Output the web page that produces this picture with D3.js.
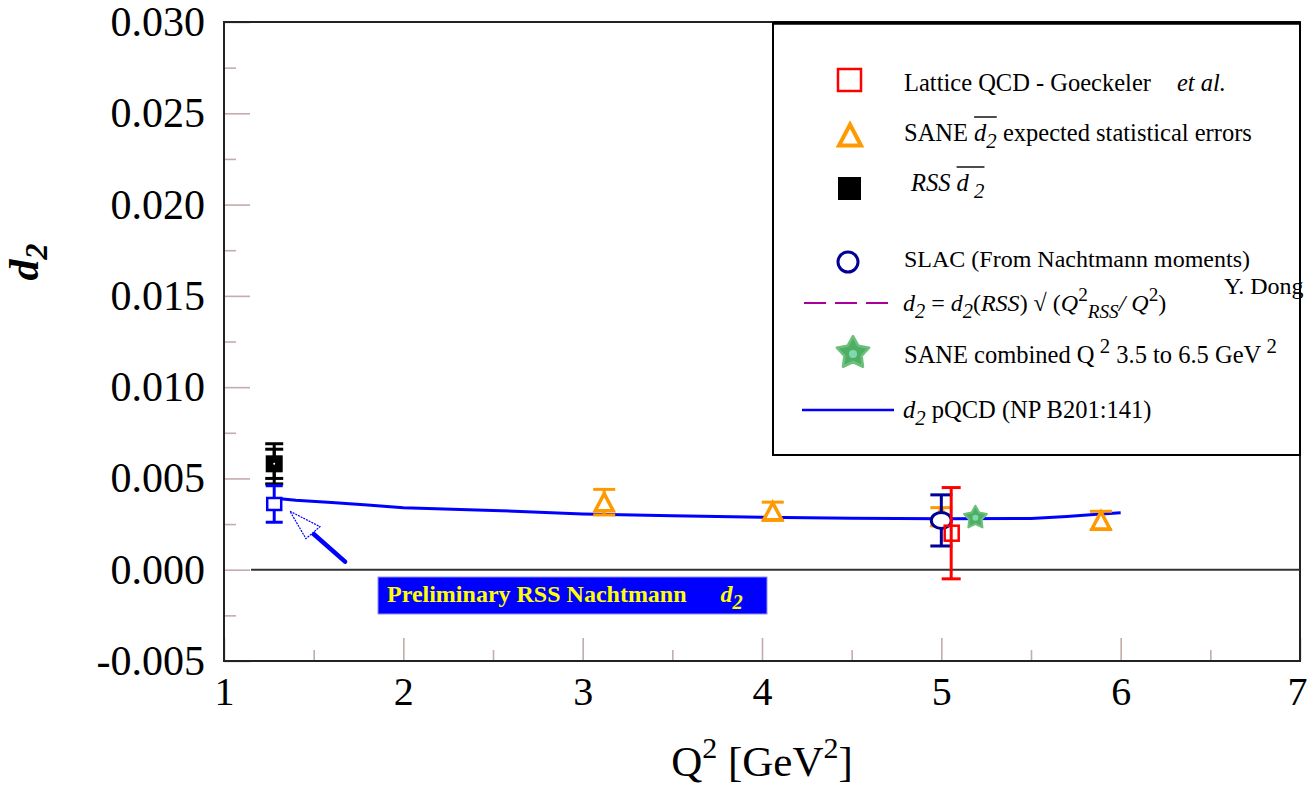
<!DOCTYPE html>
<html><head><meta charset="utf-8">
<script src="https://cdn.jsdelivr.net/npm/d3@7"></script>
<style>body{margin:0;background:#fff}svg{display:block}</style>
</head><body>
<svg id="chart" width="1308" height="789"></svg>
<script>
// ---------------- data ----------------
const xDomain = [1, 7];
const yDomain = [-0.005, 0.030];
const xTicks = [1, 2, 3, 4, 5, 6, 7];
const yTicks = [-0.005, 0.000, 0.005, 0.010, 0.015, 0.020, 0.025, 0.030];

const pqcdQ2 = [1.3, 1.4, 1.6, 1.8, 2.0, 2.5, 3.0, 3.5, 4.0, 4.5, 5.0, 5.5, 5.7, 5.85, 6.0];
const pqcdD2 = [0.0039, 0.0038, 0.00368, 0.00355, 0.0034, 0.00325, 0.00305, 0.00295, 0.00287, 0.00282, 0.00279, 0.00281, 0.00292, 0.00303, 0.00312];

const latticeQ2 = [5.055];
const latticeD2 = [0.0020];
const latticeErr = [0.0025];

const saneQ2 = [3.12, 4.06, 5.0, 5.89];
const saneD2 = [0.0037, 0.0032, 0.0029, 0.0027];
const saneErr = [0.0007, 0.0005, 0.0005, 0.0005];

const rssQ2 = [1.28];
const rssD2 = [0.0058];
const rssErrStat = [0.0008];
const rssErrTot = [0.0011];

const nachQ2 = [1.28];
const nachD2 = [0.0036];
const nachErr = [0.0010];

const slacQ2 = [5.0];
const slacD2 = [0.0027];
const slacErr = [0.0014];

const saneCombQ2 = [5.19];
const saneCombD2 = [0.00285];

// annotation arrow (data units)
const arrowTail = [1.675, 0.00044];
const arrowBase = [1.495, 0.00200];
const arrowTip = [1.368, 0.0032];
const arrowWingA = [1.535, 0.00236];
const arrowWingB = [1.457, 0.00170];

// ---------------- setup ----------------
const SERIF = '"Liberation Serif","Times New Roman",serif';
const svg = d3.select('#chart');
const L = 224, R = 1300, T = 22, B = 661;
const x = d3.scaleLinear().domain(xDomain).range([L, R]);
const y = d3.scaleLinear().domain(yDomain).range([B, T]);
const tickCol = '#c4acac';

// ---------------- axes ----------------
const yMinor = d3.pairs(yTicks).map(([a, b]) => (a + b) / 2);
const xMinor = d3.pairs(xTicks).map(([a, b]) => (a + b) / 2);

const gyMinor = svg.append('g').attr('transform', `translate(${L},0)`)
  .call(d3.axisLeft(y).tickValues(yMinor).tickSize(-12).tickFormat(''));
const gy = svg.append('g').attr('transform', `translate(${L},0)`)
  .call(d3.axisLeft(y).tickValues(yTicks).tickSize(-26).tickPadding(19).tickFormat(d => d.toFixed(3)));
const gxMinor = svg.append('g').attr('transform', `translate(0,${B})`)
  .call(d3.axisBottom(x).tickValues(xMinor).tickSize(-11).tickFormat(''));
const gx = svg.append('g').attr('transform', `translate(0,${B})`)
  .call(d3.axisBottom(x).tickValues(xTicks).tickSize(-23).tickPadding(16).tickFormat(d3.format('d')));

[gy, gyMinor, gx, gxMinor].forEach(g => {
  g.select('.domain').remove();
  g.selectAll('.tick line').attr('stroke', tickCol).attr('stroke-width', 1.6);
  g.selectAll('text').attr('fill', '#000').style('font-family', SERIF);
});
gy.selectAll('text').style('font-size', '42px');
gx.selectAll('text').style('font-size', '40px');
gx.selectAll('.tick text').filter(d => d === xDomain[1]).attr('dx', -3);

// frame
svg.append('rect').attr('x', L).attr('y', T).attr('width', R - L).attr('height', B - T)
  .attr('fill', 'none').attr('stroke', '#222').attr('stroke-width', 2);

// zero line
svg.append('line').attr('x1', L + 27).attr('x2', R).attr('y1', y(0)).attr('y2', y(0))
  .attr('stroke', '#333').attr('stroke-width', 2);

// ---------------- rich text helper ----------------
function rich(parent, px, py, segs, size, fill) {
  const t = parent.append('text').attr('x', px).attr('y', py)
    .style('font-family', SERIF).style('font-size', size + 'px').attr('fill', fill || '#000');
  let off = 0;
  const spans = [];
  segs.forEach(s => {
    const target = s.s === 'sub' ? 0.28 * size : s.s === 'sup' ? -0.42 * size : 0;
    const ts = t.append('tspan').text(s.t).attr('dy', target - off).attr('fill', fill || '#000');
    off = target;
    if (s.i) ts.style('font-style', 'italic');
    if (s.b) ts.style('font-weight', 'bold');
    if (s.s) ts.style('font-size', ((s.fs || 0.8) * size) + 'px');
    if (s.dx) ts.attr('dx', s.dx);
    spans.push(ts);
  });
  return spans;
}
function overline(parent, spanFirst, spanLast, yy) {
  try {
    const a = spanFirst.node().getBBox(), b = spanLast.node().getBBox();
    parent.append('line').attr('x1', a.x).attr('x2', b.x + b.width)
      .attr('y1', yy).attr('y2', yy).attr('stroke', '#000').attr('stroke-width', 1.4);
  } catch (e) {}
}

// axis titles
const yt = svg.append('text').attr('transform', 'translate(38,262) rotate(-90)')
  .attr('text-anchor', 'middle').style('font-family', SERIF).style('font-size', '42px')
  .style('font-weight', 'bold').style('font-style', 'italic');
yt.append('tspan').text('d');
yt.append('tspan').text('2').attr('dy', 9).style('font-size', '32px');

const xt = svg.append('text').attr('x', (L + R) / 2).attr('y', 776).attr('text-anchor', 'middle')
  .style('font-family', SERIF).style('font-size', '43px');
xt.append('tspan').text('Q');
xt.append('tspan').text('2').attr('dy', -18).style('font-size', '30px');
xt.append('tspan').text(' [GeV').attr('dy', 18);
xt.append('tspan').text('2').attr('dy', -18).style('font-size', '30px');
xt.append('tspan').text(']').attr('dy', 18);

// ---------------- marker helpers ----------------
function triPath(cx, cy, hw, h) {
  return `M${cx},${cy - h / 2}L${cx + hw},${cy + h / 2}L${cx - hw},${cy + h / 2}Z`;
}
function starPath(cx, cy, ro, ri) {
  const p = [];
  for (let i = 0; i < 10; i++) {
    const r = i % 2 ? ri : ro, a = -Math.PI / 2 + i * Math.PI / 5;
    p.push([cx + r * Math.cos(a), cy + r * Math.sin(a)]);
  }
  return 'M' + p.map(d => d.join(',')).join('L') + 'Z';
}
function errbar(g, q, v, e, col, capHalf, w) {
  g.append('line').attr('x1', x(q)).attr('x2', x(q)).attr('y1', y(v - e)).attr('y2', y(v + e))
    .attr('stroke', col).attr('stroke-width', w);
  [v - e, v + e].forEach(yy => g.append('line').attr('x1', x(q) - capHalf).attr('x2', x(q) + capHalf)
    .attr('y1', y(yy)).attr('y2', y(yy)).attr('stroke', col).attr('stroke-width', w));
}

const plot = svg.append('g');

// pQCD curve
plot.append('path').datum(pqcdQ2.map((q, i) => [q, pqcdD2[i]]))
  .attr('d', d3.line().x(d => x(d[0])).y(d => y(d[1])))
  .attr('fill', 'none').attr('stroke', '#0000ff').attr('stroke-width', 3);

// SANE expected
saneQ2.forEach((q, i) => {
  errbar(plot, q, saneD2[i], saneErr[i], '#ff9900', 11, 3);
  plot.append('path').attr('d', triPath(x(q), y(saneD2[i]), 9, 17))
    .attr('fill', '#fff').attr('stroke', '#ff9900').attr('stroke-width', 3.5);
});

// SLAC
slacQ2.forEach((q, i) => {
  errbar(plot, q, slacD2[i], slacErr[i], '#000099', 11, 3);
  plot.append('ellipse').attr('cx', x(q)).attr('cy', y(slacD2[i])).attr('rx', 10).attr('ry', 8)
    .attr('fill', '#fff').attr('stroke', '#000099').attr('stroke-width', 3);
});

// Lattice
latticeQ2.forEach((q, i) => {
  errbar(plot, q, latticeD2[i], latticeErr[i], '#ff0000', 9.5, 3);
  plot.append('rect').attr('x', x(q) - 6.5).attr('y', y(latticeD2[i]) - 7.5).attr('width', 14).attr('height', 15)
    .attr('fill', 'none').attr('stroke', '#ff0000').attr('stroke-width', 2.5);
});

// SANE combined star
saneCombQ2.forEach((q, i) => {
  plot.append('path').attr('d', starPath(x(q), y(saneCombD2[i]), 12, 6.5))
    .attr('fill', '#4fae63').attr('stroke', '#6cc07c').attr('stroke-width', 2).attr('stroke-linejoin', 'round');
  plot.append('circle').attr('cx', x(q)).attr('cy', y(saneCombD2[i])).attr('r', 3).attr('fill', '#7fd9b0');
});

// RSS
rssQ2.forEach((q, i) => {
  errbar(plot, q, rssD2[i], rssErrTot[i], '#000', 9, 3);
  errbar(plot, q, rssD2[i], rssErrStat[i], '#000', 9, 3);
  plot.append('rect').attr('x', x(q) - 8.5).attr('y', y(rssD2[i]) - 8.5).attr('width', 17).attr('height', 17).attr('fill', '#000');
  plot.append('circle').attr('cx', x(q)).attr('cy', y(rssD2[i])).attr('r', 1).attr('fill', '#fff');
});

// RSS Nachtmann (preliminary)
nachQ2.forEach((q, i) => {
  errbar(plot, q, nachD2[i], nachErr[i], '#0000ff', 8.5, 3);
  plot.append('rect').attr('x', x(q) - 7).attr('y', y(nachD2[i]) - 6).attr('width', 14).attr('height', 12)
    .attr('fill', '#fff').attr('stroke', '#0000ff').attr('stroke-width', 2.5);
});

// arrow
plot.append('line').attr('x1', x(arrowTail[0])).attr('y1', y(arrowTail[1]))
  .attr('x2', x(arrowBase[0])).attr('y2', y(arrowBase[1]))
  .attr('stroke', '#0000ff').attr('stroke-width', 4.5).attr('stroke-linecap', 'round');
plot.append('path').attr('d', `M${x(arrowTip[0])},${y(arrowTip[1])}L${x(arrowWingA[0])},${y(arrowWingA[1])}L${x(arrowWingB[0])},${y(arrowWingB[1])}Z`)
  .attr('fill', '#fff').attr('stroke', '#0000ff').attr('stroke-width', 1.2).attr('stroke-dasharray', '2,1');

// annotation box
svg.append('rect').attr('x', 378).attr('y', 577).attr('width', 389).attr('height', 37)
  .attr('fill', '#0000ff').attr('stroke', '#9090ff').attr('stroke-width', 1);
rich(svg, 387, 602, [{t: 'Preliminary RSS Nachtmann', b: true},
  {t: 'd', b: true, i: true, dx: 34}, {t: '2', b: true, i: true, s: 'sub', fs: 0.85}], 24, '#ffff00');

// ---------------- legend ----------------
const lg = svg.append('g');
lg.append('rect').attr('x', 773).attr('y', 23).attr('width', 527).attr('height', 432)
  .attr('fill', '#fff').attr('stroke', '#000').attr('stroke-width', 2);
lg.append('line').attr('x1', 773).attr('x2', 1300).attr('y1', 23).attr('y2', 23).attr('stroke', '#000').attr('stroke-width', 3.5);

const LS = 24.5;
// Lattice
lg.append('rect').attr('x', 838).attr('y', 69).attr('width', 23).attr('height', 22)
  .attr('fill', 'none').attr('stroke', '#ff0000').attr('stroke-width', 2.5);
rich(lg, 904, 91, [{t: 'Lattice QCD - Goeckeler'}, {t: 'et al.', i: true, dx: 26}], LS);
// SANE
lg.append('path').attr('d', triPath(850, 135, 11, 21)).attr('fill', '#fff')
  .attr('stroke', '#ff9900').attr('stroke-width', 4);
let sp = rich(lg, 904, 141, [{t: 'SANE '}, {t: 'd', i: true}, {t: '2', i: true, s: 'sub', fs: 0.85}, {t: ' expected statistical errors'}], LS);
overline(lg, sp[1], sp[2], 117);
// RSS
lg.append('rect').attr('x', 838).attr('y', 177).attr('width', 23).attr('height', 23).attr('fill', '#000');
sp = rich(lg, 911, 191, [{t: 'RSS', i: true}, {t: ' '}, {t: 'd', i: true}, {t: ' 2', i: true, s: 'sub', fs: 0.85}], LS);
overline(lg, sp[2], sp[3], 167);
// SLAC
lg.append('circle').attr('cx', 848).attr('cy', 262).attr('r', 10)
  .attr('fill', '#fff').attr('stroke', '#000099').attr('stroke-width', 3);
rich(lg, 904, 267, [{t: 'SLAC (From Nachtmann moments)'}], 24);
// formula
lg.append('line').attr('x1', 804).attr('x2', 894).attr('y1', 303).attr('y2', 303)
  .attr('stroke', '#aa0099').attr('stroke-width', 2.2).attr('stroke-dasharray', '22,9');
rich(lg, 903, 311, [{t: 'd', i: true}, {t: '2', i: true, s: 'sub', fs: 0.85}, {t: ' = '}, {t: 'd', i: true},
  {t: '2', i: true, s: 'sub', fs: 0.85}, {t: '('}, {t: 'RSS', i: true}, {t: ') √ ('}, {t: 'Q', i: true},
  {t: '2', s: 'sup', fs: 0.8}, {t: 'RSS', i: true, s: 'sub', fs: 0.8}, {t: '/ ', i: true}, {t: 'Q', i: true},
  {t: '2', s: 'sup', fs: 0.8}, {t: ')'}], 24);
rich(lg, 1224, 294, [{t: 'Y. Dong'}], 24);
// SANE combined
lg.append('path').attr('d', starPath(853, 353, 17, 9))
  .attr('fill', '#4fae63').attr('stroke', '#6cc07c').attr('stroke-width', 2.5).attr('stroke-linejoin', 'round');
lg.append('circle').attr('cx', 853).attr('cy', 354).attr('r', 4).attr('fill', '#7fd9b0');
rich(lg, 904, 363, [{t: 'SANE combined Q'}, {t: ' 2', s: 'sup', fs: 0.85}, {t: ' 3.5 to 6.5 GeV'}, {t: ' 2', s: 'sup', fs: 0.85}], LS);
// pQCD
lg.append('line').attr('x1', 802).attr('x2', 894).attr('y1', 410).attr('y2', 410)
  .attr('stroke', '#0000ff').attr('stroke-width', 2.5);
rich(lg, 903, 418, [{t: 'd', i: true}, {t: '2', i: true, s: 'sub', fs: 0.85}, {t: ' pQCD (NP B201:141)'}], LS);
</script>
</body></html>
